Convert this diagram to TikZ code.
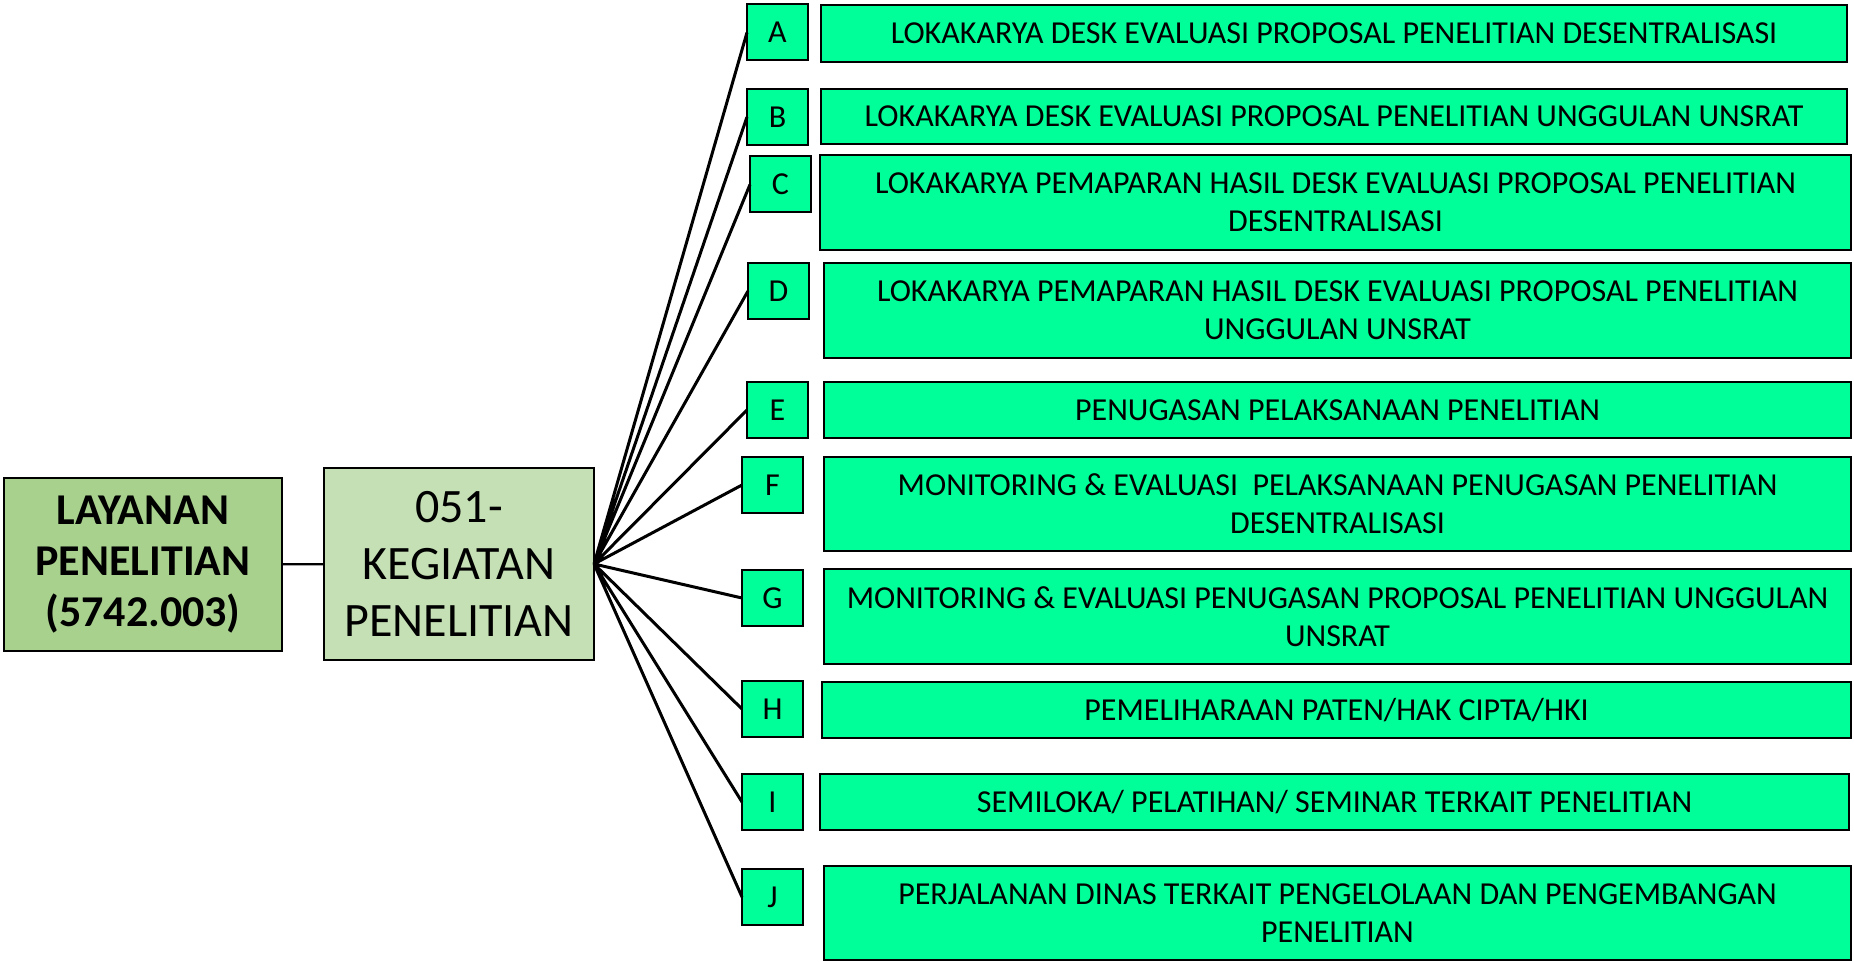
\documentclass[tikz,border=0pt]{standalone}
\usepackage{fontspec}
\setmainfont{Carlito}
\usepackage{xcolor}
\definecolor{layfill}{HTML}{A9D18E}
\definecolor{kegfill}{HTML}{C5E0B4}
\definecolor{itemfill}{HTML}{00FF99}

\begin{document}
\begin{tikzpicture}[x=0.5pt, y=-0.5pt,
    box/.style={rectangle, draw, line width=1pt, inner sep=0pt, outer sep=0pt, align=center},
    letter/.style={box, fill=itemfill, minimum width=30.5pt, minimum height=28pt, font=\fontsize{16}{19}\selectfont},
    item/.style={box, fill=itemfill, font=\fontsize{16}{19}\selectfont},
    link/.style={line width=1.5pt}]
      \useasboundingbox (0,0) rectangle (1854,962);

      \node[box, fill=layfill, minimum width=139pt, minimum height=86.5pt, font=\fontsize{22}{25.5}\selectfont\bfseries] (lay) at (143,564.5) {LAYANAN\\PENELITIAN\\(5742.003)};
      \node[box, fill=kegfill, minimum width=135pt, minimum height=96pt, font=\fontsize{24}{28.5}\selectfont] (keg) at (459,564) {051-\\KEGIATAN\\PENELITIAN};

      \node[letter] (a) at (777.5,32.5) {A};
      \node[letter] (b) at (777.5,117) {B};
      \node[letter] (c) at (780.5,184.5) {C};
      \node[letter] (d) at (778.5,291) {D};
      \node[letter] (e) at (777.5,410) {E};
      \node[letter] (f) at (772.5,485) {F};
      \node[letter] (g) at (772.5,598) {G};
      \node[letter] (h) at (772.5,709) {H};
      \node[letter] (i) at (772.5,802) {I};
      \node[letter] (j) at (772.5,897) {J};

      \node[item, minimum width=513pt, minimum height=28.5pt] (ta) at (1334,33.5) {LOKAKARYA DESK EVALUASI PROPOSAL PENELITIAN DESENTRALISASI};
      \node[item, minimum width=513pt, minimum height=27.5pt] (tb) at (1334,116.5) {LOKAKARYA DESK EVALUASI PROPOSAL PENELITIAN UNGGULAN UNSRAT};
      \node[item, minimum width=515.5pt, minimum height=47.5pt] (tc) at (1335.5,202.5) {LOKAKARYA PEMAPARAN HASIL DESK EVALUASI PROPOSAL PENELITIAN\\DESENTRALISASI};
      \node[item, minimum width=513.5pt, minimum height=47.5pt] (td) at (1337.5,310.5) {LOKAKARYA PEMAPARAN HASIL DESK EVALUASI PROPOSAL PENELITIAN\\UNGGULAN UNSRAT};
      \node[item, minimum width=513.5pt, minimum height=28pt] (te) at (1337.5,410) {PENUGASAN PELAKSANAAN PENELITIAN};
      \node[item, minimum width=513.5pt, minimum height=47pt] (tf) at (1337.5,504) {MONITORING \& EVALUASI\ \ PELAKSANAAN PENUGASAN PENELITIAN\\DESENTRALISASI};
      \node[item, minimum width=513.5pt, minimum height=47.5pt] (tg) at (1337.5,616.5) {MONITORING \& EVALUASI PENUGASAN PROPOSAL PENELITIAN UNGGULAN\\UNSRAT};
      \node[item, minimum width=514.5pt, minimum height=28pt] (th) at (1336.5,710) {PEMELIHARAAN PATEN/HAK CIPTA/HKI};
      \node[item, minimum width=514.5pt, minimum height=28pt] (ti) at (1334.5,802) {SEMILOKA/ PELATIHAN/ SEMINAR TERKAIT PENELITIAN};
      \node[item, minimum width=513.5pt, minimum height=47pt] (tj) at (1337.5,913) {PERJALANAN DINAS TERKAIT PENGELOLAAN DAN PENGEMBANGAN\\PENELITIAN};

      \draw[line width=1.2pt] (lay) -- (keg);
      \draw[link] (keg.east) -- (a.west) (keg.east) -- (b.west) (keg.east) -- (c.west)
        (keg.east) -- (d.west) (keg.east) -- (e.west) (keg.east) -- (f.west)
        (keg.east) -- (g.west) (keg.east) -- (h.west) (keg.east) -- (i.west)
        (keg.east) -- (j.west);
    \end{tikzpicture}
\end{document}
